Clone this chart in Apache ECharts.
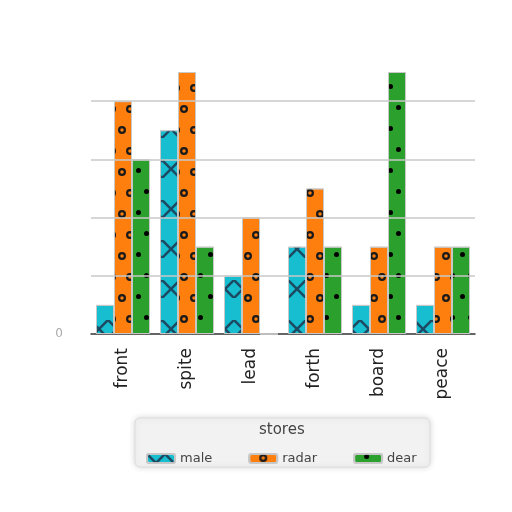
<!DOCTYPE html>
<html>
<head>
<meta charset="utf-8">
<script src="https://cdn.jsdelivr.net/npm/echarts@6/dist/echarts.min.js"></script>
<style>html,body{margin:0;padding:0;background:#fff;}#c{width:512px;height:512px;}</style>
</head>
<body>
<div id="c"></div>
<script>
var categories = ['front', 'spite', 'lead', 'forth', 'board', 'peace'];
var male = [0.5, 3.5, 1.0, 1.5, 0.5, 0.5];
var radar = [4.0, 4.5, 2.0, 2.5, 1.5, 1.5];
var dear = [3.0, 1.5, 0, 1.5, 4.5, 1.5];
var legendTitle = 'stores';

var xPath = 'path://M0,0L10,0L50,40L90,0L100,0L100,10L60,50L100,90L100,100L90,100L50,60L10,100L0,100L0,90L40,50L0,10Z';
var ringPath = 'path://M50,0A50,50 0 1,0 50,100A50,50 0 1,0 50,0ZM50,28A22,22 0 1,1 50,72A22,22 0 1,1 50,28Z';

var chart = echarts.init(document.getElementById('c'));
var font = 'DejaVu Sans';
function mk(name, data, color, decal) {
  return {
    name: name, type: 'bar', data: data, barWidth: 18, barGap: '0%',
    itemStyle: { color: color, borderColor: 'rgba(200,200,200,0.9)', borderWidth: 1, decal: decal },
    emphasis: { disabled: true }
  };
}
chart.setOption({
  animation: false,
  backgroundColor: '#fff',
  grid: { left: 91, right: 37, top: 72, bottom: 178 },
  xAxis: {
    type: 'category', data: categories,
    axisLine: { lineStyle: { color: '#333', width: 1.5 } },
    axisTick: { alignWithLabel: true, length: 5, lineStyle: { color: '#333' } },
    axisLabel: { rotate: 90, fontSize: 17, color: '#222', margin: 14, fontFamily: font }
  },
  yAxis: {
    type: 'value', min: 0, max: 4.5, interval: 1, z: 3,
    axisLine: { show: false }, axisTick: { show: false },
    splitLine: { show: true, showMaxLine: false, showMinLine: false, lineStyle: { color: '#c8c8c8', width: 1.5 } },
    axisLabel: { formatter: function (v) { return v === 0 ? '0' : ''; }, color: '#aaa', fontSize: 12, margin: 28, fontFamily: font }
  },
  graphic: [
    { type: 'rect', z: 0, shape: { x: 135, y: 418, width: 295, height: 49, r: 5 },
      style: { fill: '#f2f2f2', stroke: '#dcdcdc', lineWidth: 1, shadowBlur: 6, shadowColor: 'rgba(0,0,0,0.15)' } },
    { type: 'text', z: 5, left: 259, top: 423, style: { text: legendTitle, fontSize: 15, fill: '#444', fontFamily: font } }
  ],
  legend: {
    z: 5, left: 141, top: 447, itemWidth: 28, itemHeight: 9, itemGap: 36,
    textStyle: { fontSize: 13, color: '#444', fontFamily: font },
    data: ['male', 'radar', 'dear']
  },
  series: [
    mk('male', male, '#17becf', { symbol: xPath, color: '#1d4a63', dashArrayX: [18, 0], dashArrayY: [18, 22], symbolSize: 1 }),
    mk('radar', radar, '#ff7f0e', { symbol: ringPath, color: '#1a1a1a', dashArrayX: [[8, 10], [0, 10, 8, 0]], dashArrayY: [8, 13], symbolSize: 1 }),
    mk('dear', dear, '#2ca02c', { symbol: 'circle', color: '#000', dashArrayX: [[5, 13], [0, 10, 5, 3]], dashArrayY: [5, 16], symbolSize: 1 })
  ]
});
</script>
</body>
</html>
